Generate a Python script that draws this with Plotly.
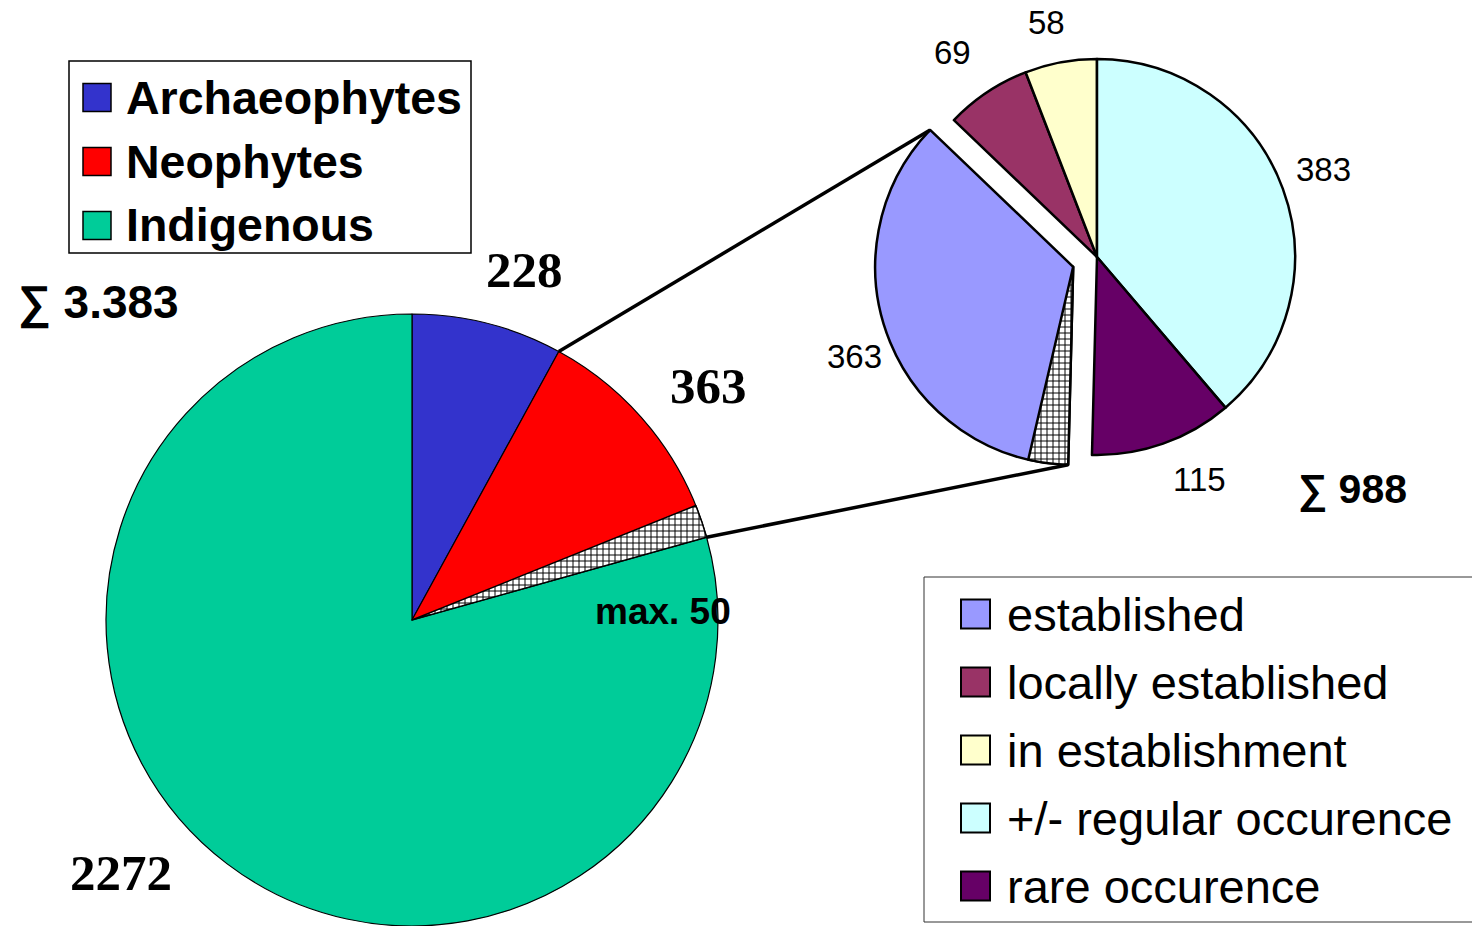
import math
import plotly.graph_objects as go

W, H = 1472, 926

# Whole flora
flora_labels = ["Archaeophytes", "Neophytes", "Indigenous"]
flora_values = [228, 363, 2272]
flora_colors = ["#3333CC", "#FF0000", "#00CC99"]
flora_sum_text = "3.383"
casual_max = 50          # hatched share at the end of the Neophytes wedge

# Breakdown of the neophytes
status_labels = ["established", "locally established", "in establishment",
                 "+/- regular occurence", "rare occurence"]
status_values = [363, 69, 58, 383, 115]
status_colors = ["#9999FF", "#993366", "#FFFFCC", "#CCFFFF", "#660066"]
status_hatch = 32        # hatched share inside the exploded "established" wedge

CLEAR = "rgba(0,0,0,0)"

# pie geometry (pixels)
BIG_CX, BIG_CY, BIG_R = 412, 620, 306
SM_CX, SM_CY, SM_R = 1097, 257, 198
PULL = 0.13


def px(x):
    return x / W


def py(y):
    return 1 - y / H


def domain(cx, cy, r, pull=0.0):
    half = r * (1 + pull)
    return dict(x=[px(cx - half), px(cx + half)], y=[py(cy + half), py(cy - half)])


def arc_point(cx, cy, r, deg):
    a = math.radians(deg)
    return cx + r * math.sin(a), cy - r * math.cos(a)


flora_total = sum(flora_values)
status_total = sum(status_values)
sm_rotation = 360 * sum(status_values[3:]) / status_total
if sm_rotation > 180:
    sm_rotation -= 360

fig = go.Figure()

# large pie
fig.add_trace(go.Pie(
    labels=flora_labels, values=flora_values, sort=False, direction="clockwise",
    rotation=0, textinfo="none", showlegend=False,
    marker=dict(colors=flora_colors, line=dict(color="black", width=1.2)),
    domain=domain(BIG_CX, BIG_CY, BIG_R),
))

# hatched overlay on the last part of the Neophytes wedge
big_hatch_vals = [flora_values[0], flora_values[1] - casual_max, casual_max, flora_values[2]]
fig.add_trace(go.Pie(
    labels=["a", "b", "max", "c"], values=big_hatch_vals, sort=False,
    direction="clockwise", rotation=0, textinfo="none", showlegend=False,
    hoverinfo="skip",
    marker=dict(colors=[CLEAR, CLEAR, "white", CLEAR],
                line=dict(color="black", width=[0, 0, 1.5, 0]),
                pattern=dict(shape=["", "", "+", ""], fgcolor="black",
                             bgcolor="white", size=6, solidity=0.3)),
    domain=domain(BIG_CX, BIG_CY, BIG_R),
))

# small pie with the established wedge pulled out
fig.add_trace(go.Pie(
    labels=status_labels, values=status_values, sort=False, direction="clockwise",
    rotation=sm_rotation, textinfo="none", showlegend=False,
    pull=[PULL, 0, 0, 0, 0],
    marker=dict(colors=status_colors, line=dict(color="black", width=2.5)),
    domain=domain(SM_CX, SM_CY, SM_R, PULL),
))

# offset of the pulled wedge
mid = sm_rotation + 180 * status_values[0] / status_total
EX_CX, EX_CY = arc_point(SM_CX, SM_CY, PULL * SM_R, mid)

sm_hatch_vals = [status_hatch, status_values[0] - status_hatch] + status_values[1:]
fig.add_trace(go.Pie(
    labels=["h", "e", "l", "i", "r", "o"], values=sm_hatch_vals, sort=False,
    direction="clockwise", rotation=sm_rotation, textinfo="none", showlegend=False,
    hoverinfo="skip",
    marker=dict(colors=["white"] + [CLEAR] * 5,
                line=dict(color="black", width=[2.5, 0, 0, 0, 0, 0]),
                pattern=dict(shape=["+", "", "", "", "", ""], fgcolor="black",
                             bgcolor="white", size=6, solidity=0.3)),
    domain=domain(EX_CX, EX_CY, SM_R),
))

shapes = []
# connector lines between the Neophytes wedge and the exploded wedge
b1 = arc_point(BIG_CX, BIG_CY, BIG_R, 360 * flora_values[0] / flora_total)
b2 = arc_point(BIG_CX, BIG_CY, BIG_R, 360 * sum(flora_values[:2]) / flora_total)
s1 = arc_point(EX_CX, EX_CY, SM_R, sm_rotation + 360 * status_values[0] / status_total)
s2 = arc_point(EX_CX, EX_CY, SM_R, sm_rotation)
for (x0, y0), (x1, y1) in [(b1, s1), (b2, s2)]:
    shapes.append(dict(type="line", xref="paper", yref="paper",
                       x0=px(x0), y0=py(y0), x1=px(x1), y1=py(y1),
                       line=dict(color="black", width=3.5)))

annotations = []
SANS = "Liberation Sans, Arial, sans-serif"
SERIF = "Liberation Serif, Times New Roman, serif"

# legend for the large pie
shapes.append(dict(type="rect", xref="paper", yref="paper",
                   x0=px(69), x1=px(471), y0=py(253), y1=py(61),
                   line=dict(color="black", width=1.5), fillcolor="white", layer="below"))
for i, (lab, col) in enumerate(zip(flora_labels, flora_colors)):
    yc = 97.5 + 64 * i
    shapes.append(dict(type="rect", xref="paper", yref="paper",
                       x0=px(83), x1=px(111), y0=py(yc + 14), y1=py(yc - 14),
                       fillcolor=col, line=dict(color="black", width=1.5)))
    annotations.append(dict(text=lab, x=px(124), y=py(yc), xref="paper", yref="paper",
                            xanchor="left", yanchor="middle", showarrow=False,
                            font=dict(family=SANS, size=46.5, color="black", weight="bold")))

# legend for the small pie
shapes.append(dict(type="rect", xref="paper", yref="paper",
                   x0=px(924), x1=px(1480), y0=py(922), y1=py(577),
                   line=dict(color="#333333", width=1), fillcolor="white", layer="below"))
for i, (lab, col) in enumerate(zip(status_labels, status_colors)):
    yc = 614 + 68 * i
    shapes.append(dict(type="rect", xref="paper", yref="paper",
                       x0=px(961), x1=px(990), y0=py(yc + 14.5), y1=py(yc - 14.5),
                       fillcolor=col, line=dict(color="black", width=2)))
    annotations.append(dict(text=lab, x=px(1005), y=py(yc), xref="paper", yref="paper",
                            xanchor="left", yanchor="middle", showarrow=False,
                            font=dict(family=SANS, size=47, color="black")))


def label(text, x, y, size, family=SANS, bold=False):
    annotations.append(dict(text=text, x=px(x), y=py(y), xref="paper", yref="paper",
                            xanchor="center", yanchor="middle", showarrow=False,
                            font=dict(family=family, size=size, color="black",
                                      weight="bold" if bold else "normal")))


# value labels of the large pie
label(str(flora_values[0]), 524, 270, 51, SERIF, True)
label(str(flora_values[1]), 708, 386, 51, SERIF, True)
label(str(flora_values[2]), 121, 873, 51, SERIF, True)
label(f"max. {casual_max}", 663, 611, 37, SANS, True)
label(f"∑ {flora_sum_text}", 99, 302, 46, SANS, True)

# value labels of the small pie
label(str(status_values[0]), 854, 356, 33)
label(str(status_values[1]), 952, 53, 33)
label(str(status_values[2]), 1046, 22, 33)
label(str(status_values[3]), 1323, 169, 33)
label(str(status_values[4]), 1199, 479, 33)
label(f"∑ {status_total}", 1352, 489, 41, SANS, True)

fig.update_layout(
    width=W, height=H,
    margin=dict(l=0, r=0, t=0, b=0),
    paper_bgcolor="white", plot_bgcolor="white",
    showlegend=False,
    shapes=shapes, annotations=annotations,
)

fig.write_html("out.html")
